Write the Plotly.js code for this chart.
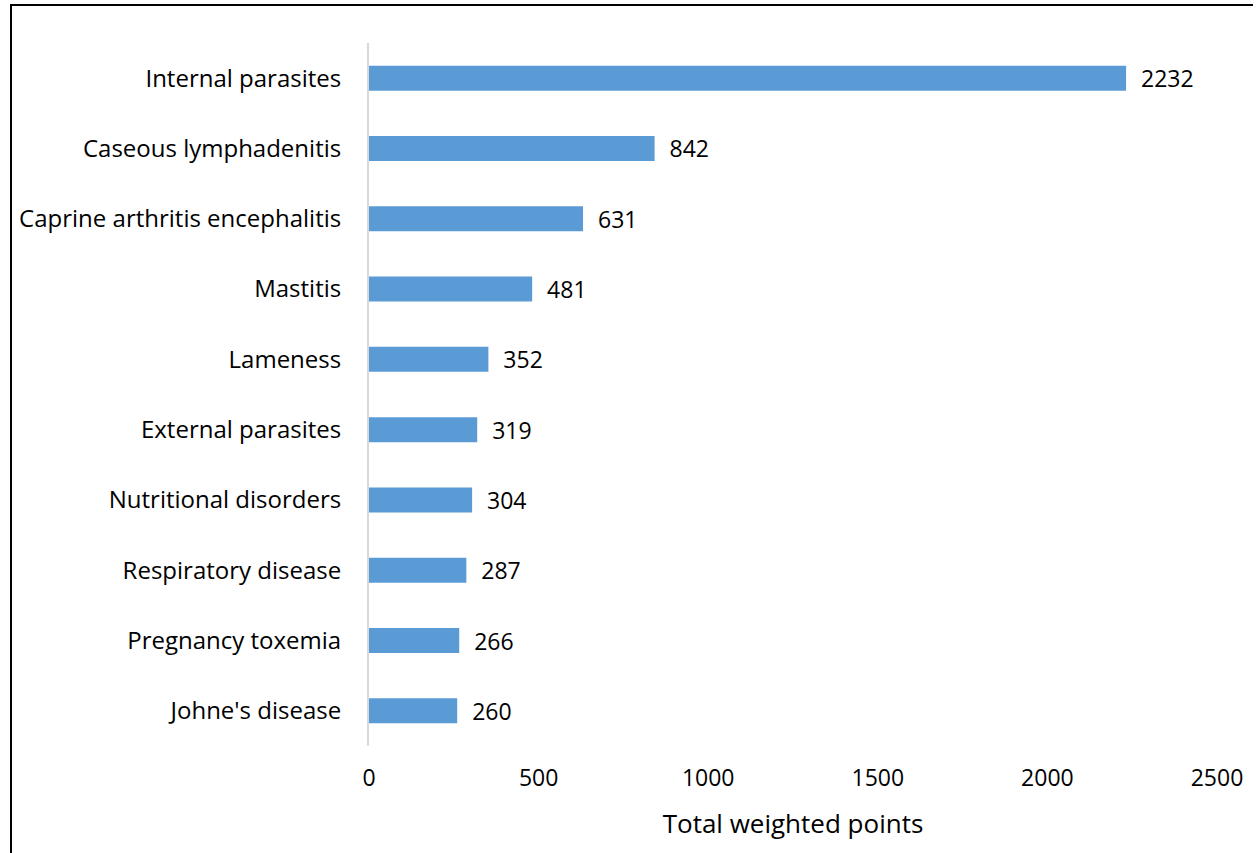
<!DOCTYPE html>
<html>
<head>
<meta charset="utf-8">
<script src="https://cdn.plot.ly/plotly-3.0.1.min.js"></script>
<style>
  html, body { margin: 0; padding: 0; background: #fff; }
  #frame { position: absolute; left: 10px; top: 4px; width: 1243px; height: 849px;
           border-top: 2px solid #000; border-left: 2px solid #000; box-sizing: border-box; }
  #chart { position: absolute; left: 0; top: 0; width: 1257px; height: 853px; }
</style>
</head>
<body>
<div id="chart"></div>
<div id="frame"></div>
<script>
const categories = ["Internal parasites", "Caseous lymphadenitis", "Caprine arthritis encephalitis",
  "Mastitis", "Lameness", "External parasites", "Nutritional disorders",
  "Respiratory disease", "Pregnancy toxemia", "Johne's disease"];
const points = [2232, 842, 631, 481, 352, 319, 304, 287, 266, 260];
const xTicks = [0, 500, 1000, 1500, 2000, 2500];

const font = "Open Sans, Noto Sans, sans-serif";

const trace = {
  type: "bar",
  orientation: "h",
  y: categories,
  x: points,
  marker: { color: "#5B9BD5" },
  text: points.map(v => "  " + v),
  textposition: "outside",
  constraintext: "none",
  textfont: { family: font, size: 23, color: "#000" },
  cliponaxis: false,
  hoverinfo: "none"
};

const layout = {
  width: 1257, height: 853,
  margin: { l: 369, r: 40, t: 43, b: 107 },
  paper_bgcolor: "rgba(0,0,0,0)",
  plot_bgcolor: "rgba(0,0,0,0)",
  bargap: 0.645,
  showlegend: false,
  font: { family: font, size: 24, color: "#000" },
  xaxis: {
    range: [0, 2500],
    tickvals: xTicks,
    ticktext: xTicks.map(String),
    showgrid: false, zeroline: false, showline: false,
    ticks: "",
    ticklabelstandoff: 16,
    tickfont: { family: font, size: 23, color: "#000" },
    title: { text: "Total weighted points", font: { family: font, size: 26, color: "#000" }, standoff: 22 }
  },
  yaxis: {
    type: "category",
    autorange: "reversed",
    showgrid: false, zeroline: false,
    showline: true, linecolor: "#D9D9D9", linewidth: 2,
    ticks: "",
    ticklabelstandoff: 21,
    tickfont: { family: font, size: 24, color: "#000" }
  }
};

Plotly.newPlot("chart", [trace], layout, { staticPlot: true, displayModeBar: false });
</script>
</body>
</html>
